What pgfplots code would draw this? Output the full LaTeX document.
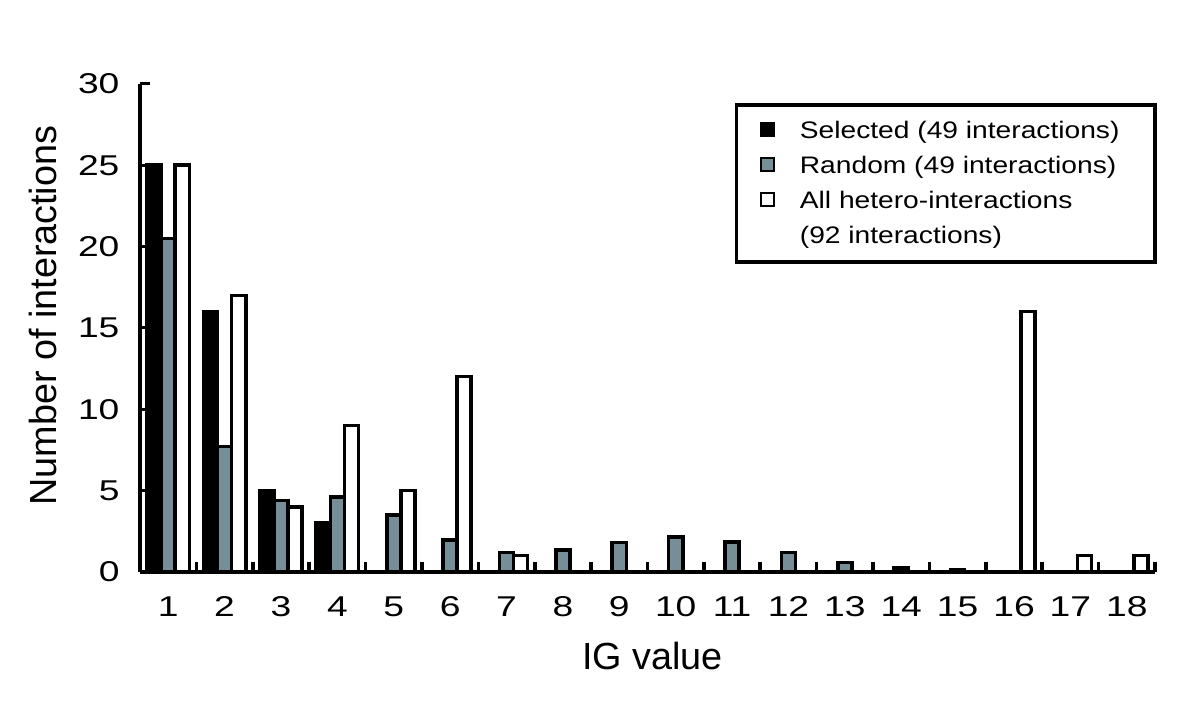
\documentclass[border=0pt]{standalone}
\usepackage{pgfplots}
\pgfplotsset{compat=1.18}
\usepackage{fontspec}
\setmainfont{Liberation Sans}
\newfontfamily\widefont{Liberation Sans}[FakeStretch=1.3]
\newfontfamily\legfont{Liberation Sans}[FakeStretch=1.18]
\definecolor{randgray}{RGB}{117,142,152}
\begin{document}
\begin{tikzpicture}
\begin{axis}[
  scale only axis,
  width=365.4pt, height=175.7pt,
  xmin=0.5, xmax=18.5, ymin=0, ymax=30,
  axis lines=left,
  axis line style={-, line width=1.7pt},
  ybar, bar width=5.07pt,
  xtick={1,...,18},
  ytick={0,5,...,30},
  minor xtick={1.5,2.5,...,18.5},
  minor ytick={5,10,...,30},
  major tick length=0pt,
  minor tick length=3.5pt,
  tick align=inside,
  xtick style={line width=1.3pt, black},
  ytick style={line width=1pt, black},
  /pgf/number format/assume math mode=true,
  tick label style={font=\widefont\fontsize{10.3}{12}\selectfont, inner sep=0pt},
  xticklabel style={anchor=north, yshift=-8.8pt},
  yticklabel style={anchor=east, xshift=-7.2pt},
  xlabel={IG value},
  ylabel={Number of interactions},
  label style={font=\fontsize{13.6}{16}\selectfont},
  xlabel style={at={(axis description cs:0.505,0)}, anchor=base, yshift=-35.1pt},
  ylabel style={at={(axis description cs:-0.0818,0.525)}, anchor=base, rotate=0},
  legend style={
    at={(axis description cs:1.002,0.96)}, anchor=north east,
    draw=black, line width=1.4pt,
    font=\legfont\fontsize{8.6}{12.6}\selectfont,
    cells={anchor=base west},
    nodes={inner sep=0pt, text height=8.8pt, text depth=3.8pt},
    row sep=0pt, column sep=9pt,
    inner xsep=8.3pt, inner ysep=3pt,
  },
  legend image code/.code={
    \draw[#1, line width=0.8pt] (0pt,0.7pt) rectangle (4.7pt,5.3pt);
  },
]
\addplot[fill=black, draw=black, line width=1.3pt, bar shift=-5.07pt]
  coordinates {(1,25) (2,16) (3,5) (4,3)};
\addlegendentry{Selected (49 interactions)\hspace*{4.5pt}}
\addplot[fill=randgray, draw=black, line width=1.3pt, bar shift=0pt]
  coordinates {(1,20.5) (2,7.7) (3,4.4) (4,4.6) (5,3.5) (6,1.95) (7,1.2) (8,1.33) (9,1.8) (10,2.15) (11,1.85) (12,1.2) (13,0.57) (14,0.25) (15,0.1)};
\addlegendentry{Random (49 interactions)}
\addplot[fill=white, draw=black, line width=1.3pt, bar shift=5.07pt]
  coordinates {(1,25) (2,17) (3,4) (4,9) (5,5) (6,12) (7,1) (16,16) (17,1) (18,1)};
\addlegendentry{All hetero-interactions}
\addlegendimage{empty legend}
\addlegendentry{(92 interactions)}
\end{axis}
\path (current axis.south west) ++(-50.4pt,-49pt) rectangle ++(432pt,254.88pt);
\end{tikzpicture}
\end{document}
